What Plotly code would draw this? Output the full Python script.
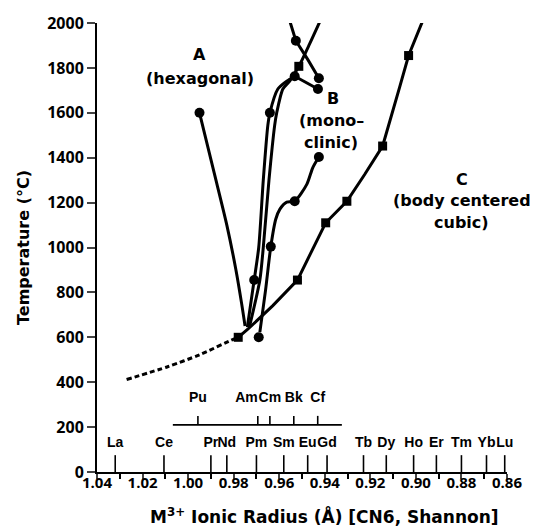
import plotly.graph_objects as go

# ---- data ----
a_x = [0.995, 0.9885, 0.983, 0.979, 0.9765, 0.975]
a_y = [1600, 1330, 1100, 900, 750, 650]

p1_x = [0.974, 0.971, 0.969, 0.967, 0.965, 0.9641, 0.9606, 0.9567, 0.9532]
p1_y = [645, 855, 1000, 1300, 1544, 1600, 1706, 1741, 1763]

p2_x = [0.973, 0.9685, 0.967, 0.9645, 0.962, 0.9611, 0.9584, 0.9554, 0.9514, 0.9466, 0.942]
p2_y = [650, 855, 1000, 1300, 1544, 1600, 1706, 1741, 1807, 1908, 2010]

x1_x = [0.9554, 0.9527, 0.9475, 0.9426]
x1_y = [2010, 1921, 1838, 1754]

seg_x = [0.9532, 0.943]
seg_y = [1763, 1706]

lb_x = [0.9685, 0.966, 0.9637, 0.9615, 0.9597, 0.9567, 0.9532, 0.9479, 0.9453, 0.9426]
lb_y = [623, 810, 1004, 1127, 1171, 1202, 1206, 1281, 1355, 1403]

c_x = [0.978, 0.9738, 0.9628, 0.952, 0.9396, 0.9303, 0.9225, 0.9146, 0.9070, 0.9032, 0.897]
c_y = [600, 636, 741, 855, 1110, 1206, 1325, 1452, 1719, 1855, 2010]

dash_x = [1.027, 1.009, 0.995, 0.980, 0.978]
dash_y = [412, 469, 522, 592, 600]

dot_x = [0.995, 0.9641, 0.9532, 0.943, 0.9426, 0.9527, 0.971, 0.9637, 0.9532, 0.9426, 0.969]
dot_y = [1600, 1600, 1763, 1706, 1754, 1921, 855, 1004, 1206, 1403, 600]

sq_x = [0.978, 0.9514, 0.952, 0.9396, 0.9303, 0.9146, 0.9032]
sq_y = [600, 1807, 855, 1110, 1206, 1452, 1855]

ln_names = ["La", "Ce", "Pr", "Nd", "Pm", "Sm", "Eu", "Gd", "Tb", "Dy", "Ho", "Er", "Tm", "Yb", "Lu"]
ln_radii = [1.032, 1.0106, 0.990, 0.983, 0.970, 0.958, 0.9475, 0.939, 0.923, 0.913, 0.901, 0.891, 0.880, 0.869, 0.861]

an_names = ["Pu", "Am", "Cm", "Bk", "Cf"]
an_radii = [0.9957, 0.9694, 0.9641, 0.9536, 0.9431]
an_line = [1.0067, 0.9325]

ln_tick_top = 75
ln_label_y = 128
an_base = 210
an_tick_top = 250
an_label_y = 328

FONT = "Open Sans"
TFONT = "DejaVu Sans"
ELFONT = "Liberation Sans Narrow, Liberation Sans, Arial"
fig = go.Figure()

def line(x, y, dash=None, shape="linear"):
    fig.add_trace(go.Scatter(x=x, y=y, mode="lines",
                             line=dict(color="black", width=3, dash=dash, shape=shape, smoothing=0.7),
                             showlegend=False, hoverinfo="skip"))

for xs, ys in [(a_x, a_y), (p1_x, p1_y), (p2_x, p2_y), (lb_x, lb_y)]:
    line(xs, ys, shape="spline")
for xs, ys in [(x1_x, x1_y), (seg_x, seg_y), (c_x, c_y)]:
    line(xs, ys)
line(dash_x, dash_y, dash="5px,3px", shape="spline")

fig.add_trace(go.Scatter(x=dot_x, y=dot_y, mode="markers",
                         marker=dict(symbol="circle", size=10, color="black"),
                         showlegend=False, cliponaxis=False))
fig.add_trace(go.Scatter(x=sq_x, y=sq_y, mode="markers",
                         marker=dict(symbol="square", size=9, color="black"),
                         showlegend=False, cliponaxis=False))

# lanthanide ticks
tx, ty = [], []
for r in ln_radii:
    tx += [r, r, None]
    ty += [0, ln_tick_top, None]
fig.add_trace(go.Scatter(x=tx, y=ty, mode="lines", line=dict(color="black", width=1.6),
                         showlegend=False, hoverinfo="skip"))
fig.add_trace(go.Scatter(x=ln_radii, y=[ln_label_y] * len(ln_radii), mode="text",
                         text=ln_names, textposition="middle center",
                         textfont=dict(family=ELFONT, size=14, color="black", weight="bold"),
                         showlegend=False, cliponaxis=False))

# actinide scale
ax_, ay_ = [an_line[0], an_line[1], None], [an_base, an_base, None]
for r in an_radii:
    ax_ += [r, r, None]
    ay_ += [an_base, an_tick_top, None]
fig.add_trace(go.Scatter(x=ax_, y=ay_, mode="lines", line=dict(color="black", width=1.6),
                         showlegend=False, hoverinfo="skip"))
fig.add_trace(go.Scatter(x=an_radii, y=[an_label_y] * len(an_radii), mode="text",
                         text=an_names,
                         textposition=["middle center", "middle left", "middle center",
                                       "middle center", "middle center"],
                         textfont=dict(family=ELFONT, size=14, color="black", weight="bold"),
                         showlegend=False, cliponaxis=False))

# phase labels
labels = [
    (0.9948, 1860, "A"), (0.9948, 1752, "(hexagonal)"),
    (0.9365, 1664, "B"), (0.9372, 1566, "(mono–"), (0.9372, 1468, "clinic)"),
    (0.8799, 1305, "C"), (0.8799, 1208, "(body centered"), (0.8799, 1112, "cubic)"),
]
for x, y, t in labels:
    fig.add_annotation(x=x, y=y, text=t, showarrow=False, xanchor="center", yanchor="middle",
                       font=dict(family=TFONT, size=16, color="black", weight="bold"))

fig.add_annotation(xref="paper", yref="paper", x=0.554, y=-0.098, xanchor="center", yanchor="middle",
                   text="M<sup>3+</sup> Ionic Radius (Å) [CN6, Shannon]", showarrow=False,
                   font=dict(family=TFONT, size=17, color="black", weight="bold"))

fig.update_layout(
    width=551, height=531,
    margin=dict(l=97, r=44, t=16, b=59),
    plot_bgcolor="white", paper_bgcolor="white",
    font=dict(family=FONT, color="black"),
    xaxis=dict(range=[1.04, 0.86], dtick=0.02, tick0=0.86, tickformat=".2f",
               ticks="outside", ticklen=5, tickwidth=1.6, showgrid=False, zeroline=False,
               showline=True, linecolor="black", linewidth=2, ticklabelstandoff=-9,
               minor=dict(dtick=0.01, ticks="outside", ticklen=5, tickwidth=1.6, tickcolor="black"),
               tickfont=dict(family=FONT, size=15, color="black", weight=700)),
    yaxis=dict(range=[0, 2000], dtick=200, ticks="outside", ticklen=8, tickwidth=1.6,
               showgrid=False, zeroline=False, showline=True, linecolor="black", linewidth=2,
               tickfont=dict(family=FONT, size=16, color="black", weight=700),
               title=dict(text="Temperature (°C)", standoff=14,
                          font=dict(family=TFONT, size=16, color="black", weight="bold"))),
)

fig.write_html("out.html")
